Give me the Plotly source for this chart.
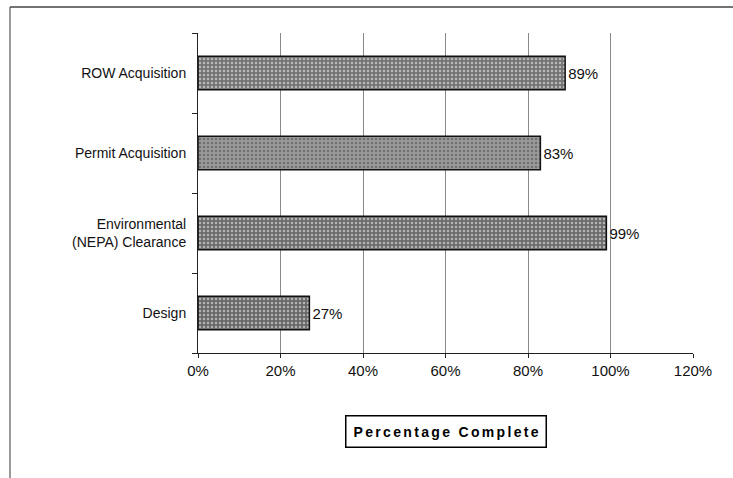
import plotly.graph_objects as go

categories = ["Design", "Environmental<br>(NEPA) Clearance", "Permit Acquisition", "ROW Acquisition"]
values = [0.27, 0.99, 0.83, 0.89]
bar_labels = ["27%", "99%", "83%", "89%"]
tick_vals = [0, 0.2, 0.4, 0.6, 0.8, 1.0, 1.2]
tick_text = ["0%", "20%", "40%", "60%", "80%", "100%", "120%"]
grid_vals = [0.2, 0.4, 0.6, 0.8, 1.0]
bar_colors = ["#686868", "#6c6c6c", "#9a9a9a", "#747474"]

W, H = 733, 478
ml, mr, mt, mb = 198, 40, 33, 125
pw, ph = W - ml - mr, H - mt - mb

font = "Liberation Sans, Arial, sans-serif"

fig = go.Figure()
fig.add_trace(go.Bar(
    y=categories, x=values, orientation="h",
    text=bar_labels, textposition="outside", cliponaxis=False,
    textfont=dict(family=font, size=15, color="#111"),
    marker=dict(color=bar_colors, line=dict(color="#111", width=1.5),
                pattern=dict(shape=".", fgcolor="#2a2a2a", size=4, solidity=0.3)),
    xaxis="x", yaxis="y", showlegend=False,
))
# invisible trace to host grid axis
fig.add_trace(go.Scatter(x=[0], y=[categories[0]], xaxis="x2", yaxis="y",
                         mode="markers", marker=dict(opacity=0), showlegend=False,
                         hoverinfo="skip"))

fig.update_layout(
    width=W, height=H,
    margin=dict(l=ml, r=mr, t=mt, b=mb),
    paper_bgcolor="white", plot_bgcolor="white",
    bargap=0.58,
    font=dict(family=font, size=14, color="#111"),
    xaxis=dict(range=[0, 1.2], tickvals=tick_vals, ticktext=tick_text,
               showgrid=False, showline=True, linecolor="#222", linewidth=1,
               ticks="outside", ticklen=4, tickcolor="#222", zeroline=False,
               tickfont=dict(family=font, size=15, color="#111"), fixedrange=True),
    xaxis2=dict(range=[0, 1.2], overlaying="x", tickvals=grid_vals, showticklabels=False,
                showgrid=True, gridcolor="#8a8a8a", gridwidth=1, zeroline=False,
                showline=False, ticks=""),
    yaxis=dict(showgrid=False, showline=True, linecolor="#222", linewidth=1,
               ticks="outside", ticklen=5, tickcolor="#222", tickson="boundaries",
               ticklabelstandoff=8,
               tickfont=dict(family=font, size=14, color="#111")),
)

# axis title box
fig.add_annotation(
    text="<b>" + "\u2006".join("Percentage") + "\u2006 \u2006" + "\u2006".join("Complete") + "</b>",
    xref="paper", yref="paper", x=0.5, y=(H - mb - 431) / ph,
    xanchor="center", yanchor="middle",
    showarrow=False, font=dict(family=font, size=14, color="#000"),
    bordercolor="#000", borderwidth=1.5, borderpad=7, bgcolor="white",
)

# outer frame (top and left lines)
fx = lambda px: (px - ml) / pw
fy = lambda py: (H - mb - py) / ph
fig.add_shape(type="line", xref="paper", yref="paper",
              x0=fx(10), x1=fx(W), y0=fy(7), y1=fy(7),
              line=dict(color="#444", width=1.5))
fig.add_shape(type="line", xref="paper", yref="paper",
              x0=fx(10), x1=fx(10), y0=fy(7), y1=fy(H),
              line=dict(color="#555", width=1.2))

fig.write_html("out.html", config={"displayModeBar": False},
               post_script="document.body.style.margin='0';")
